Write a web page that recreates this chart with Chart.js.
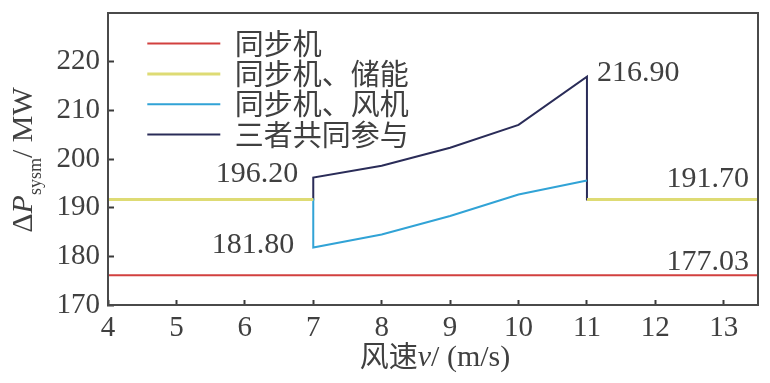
<!DOCTYPE html>
<html><head><meta charset="utf-8">
<script src="https://cdn.jsdelivr.net/npm/chart.js@4"></script>
<style>html,body{margin:0;padding:0;background:#fff}#wrap{width:770px;height:383px;position:relative}</style>
</head><body><div id="wrap"><canvas id="c"></canvas></div>
<script>
// ---- data ----
const windSpeed   = [4, 7, 7, 8, 9, 10, 11, 11, 13.5];
const syncOnly    = [176.1, 176.1, 176.1, 176.1, 176.1, 176.1, 176.1, 176.1, 176.1];
const syncStorage = [191.7, 191.7, null, null, null, null, null, 191.7, 191.7];
const syncWind    = [191.7, 191.7, 181.8, 184.5, 188.3, 192.7, 195.6, null, null];
const allThree    = [191.7, 191.7, 196.2, 198.6, 202.3, 207.0, 216.9, 191.7, 191.7];
const seriesNames = ['同步机', '同步机、储能', '同步机、风机', '三者共同参与'];
const xTicks = [4, 5, 6, 7, 8, 9, 10, 11, 12, 13];
const yTicks = [170, 180, 190, 200, 210, 220];
const annotationTexts = ['196.20', '216.90', '181.80', '191.70', '177.03'];

const colors = ['#d2403f', '#dedb74', '#31a3d6', '#2a2c58'];
const widths = [2, 3, 2, 2];
const seriesValues = [syncOnly, syncStorage, syncWind, allThree];
const TXT = '#404040';
const AX = '#3a3a3a';
const SERIF = "'Liberation Serif', 'Times New Roman', serif";
const CJK = "'Noto Sans CJK SC', sans-serif";

const datasets = seriesValues.map((vals, k) => ({
  label: seriesNames[k],
  data: windSpeed.map((x, i) => ({x: x, y: vals[i]})),
  borderColor: colors[k],
  backgroundColor: colors[k],
  borderWidth: widths[k],
  pointRadius: 0,
  tension: 0,
  fill: false,
  spanGaps: false
}));

// annotation anchors: [datasetIndex, pointIndex, dx, dy, align]
const annotationAnchors = [
  [3, 2, -15, 4.7, 'right'],
  [3, 6, 10, 4.7, 'left'],
  [2, 2, -19, 5.7, 'right'],
  [3, 8, -9, -12, 'right'],
  [0, 8, -9, -5, 'right']
];

const framePlugin = {
  id: 'frame',
  afterDatasetsDraw(chart) {
    const {ctx, chartArea: a} = chart;
    ctx.save();
    ctx.strokeStyle = '#4a4a4a';
    ctx.lineWidth = 2;
    ctx.strokeRect(a.left, a.top, a.right - a.left, a.bottom - a.top);
    ctx.restore();
  }
};

const annotationPlugin = {
  id: 'valueLabels',
  afterDatasetsDraw(chart) {
    const ctx = chart.ctx;
    ctx.save();
    ctx.font = '30px ' + SERIF;
    ctx.fillStyle = TXT;
    ctx.textBaseline = 'alphabetic';
    annotationTexts.forEach((t, k) => {
      const [ds, idx, dx, dy, align] = annotationAnchors[k];
      const el = chart.getDatasetMeta(ds).data[idx];
      ctx.textAlign = align;
      ctx.fillText(t, el.x + dx, el.y + dy);
    });
    ctx.restore();
  }
};

function drawRuns(ctx, runs, startX, baseY) {
  let x = startX;
  runs.forEach(r => {
    ctx.font = r.font;
    ctx.fillText(r.t, x, baseY + (r.dy || 0));
    x += ctx.measureText(r.t).width;
  });
}
function runsWidth(ctx, runs) {
  let w = 0;
  runs.forEach(r => { ctx.font = r.font; w += ctx.measureText(r.t).width; });
  return w;
}

const titlePlugin = {
  id: 'axisTitles',
  afterDraw(chart) {
    const {ctx, chartArea: a} = chart;
    ctx.save();
    ctx.fillStyle = TXT;
    ctx.textAlign = 'left';
    ctx.textBaseline = 'alphabetic';
    // x title
    const xr = [
      {t: '风速', font: '29px ' + CJK, dy: 1},
      {t: 'v', font: 'italic 30px ' + SERIF},
      {t: '/ (m/s)', font: '30px ' + SERIF}
    ];
    const xw = runsWidth(ctx, xr);
    drawRuns(ctx, xr, (a.left + a.right) / 2 - xw / 2 + 2, 366);
    // y title (rotated)
    const yr = [
      {t: 'Δ', font: '30px ' + SERIF},
      {t: 'P', font: 'italic 30px ' + SERIF},
      {t: 'sysm', font: '18px ' + SERIF, dy: 9},
      {t: '/ MW', font: '30px ' + SERIF}
    ];
    const yw = runsWidth(ctx, yr);
    ctx.translate(32, (a.top + a.bottom) / 2 + 1);
    ctx.rotate(-Math.PI / 2);
    drawRuns(ctx, yr, -yw / 2, 0);
    ctx.restore();
  }
};

const legendOffsetPlugin = {
  id: 'legendOffset',
  afterLayout(chart) {
    const lg = chart.legend;
    if (lg) { lg.left = chart.chartArea.left + 38; lg.top = chart.chartArea.top + 14.8; }
  }
};

new Chart(document.getElementById('c'), {
  type: 'line',
  data: {datasets: datasets},
  options: {
    responsive: true,
    maintainAspectRatio: false,
    animation: false,
    layout: {padding: {left: 0, right: 12, top: 13, bottom: 0}},
    plugins: {
      tooltip: {enabled: false},
      legend: {
        position: 'chartArea',
        align: 'start',
        labels: {
          boxWidth: 73,
          boxHeight: 0,
          padding: 1.3,
          color: TXT,
          font: {family: CJK, size: 29}
        }
      }
    },
    scales: {
      x: {
        type: 'linear',
        min: 4,
        max: 13.5,
        afterBuildTicks: s => { s.ticks = xTicks.map(v => ({value: v})); },
        afterFit: s => { s.height = 78; s.paddingLeft = 0; s.paddingRight = 0; },
        border: {display: true, color: AX, width: 2},
        grid: {drawOnChartArea: false, drawTicks: true, tickLength: -5, tickColor: AX, tickWidth: 2},
        ticks: {padding: 11, color: TXT, maxRotation: 0, autoSkip: false,
                font: {family: SERIF, size: 29}}
      },
      y: {
        type: 'linear',
        min: 170,
        max: 230,
        afterBuildTicks: s => { s.ticks = yTicks.map(v => ({value: v})); },
        afterFit: s => { s.width = 108; s.paddingTop = 0; s.paddingBottom = 0; },
        border: {display: true, color: AX, width: 2},
        grid: {drawOnChartArea: false, drawTicks: true, tickLength: -6, tickColor: AX, tickWidth: 2},
        ticks: {padding: 14, color: TXT, autoSkip: false,
                font: {family: SERIF, size: 29}}
      }
    }
  },
  plugins: [legendOffsetPlugin, framePlugin, annotationPlugin, titlePlugin]
});
</script>
</body></html>
